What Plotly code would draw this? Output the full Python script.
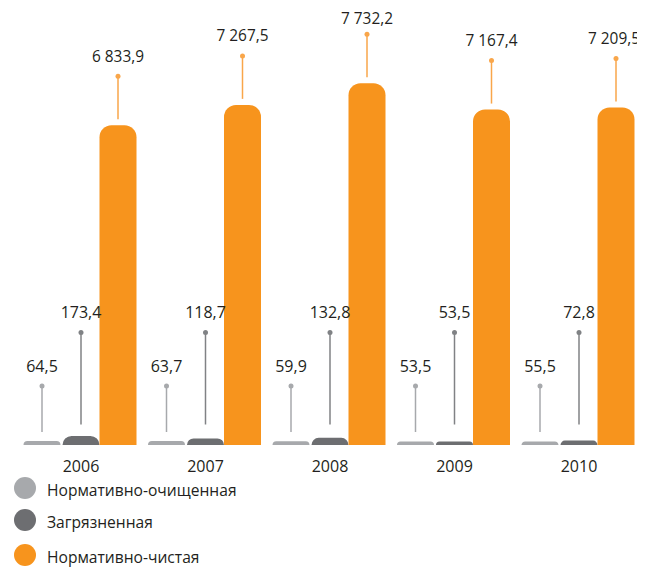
import plotly.graph_objects as go

# ---- data ----
years = ["2006", "2007", "2008", "2009", "2010"]
purified = [64.5, 63.7, 59.9, 53.5, 55.5]          # Нормативно-очищенная
polluted = [173.4, 118.7, 132.8, 53.5, 72.8]       # Загрязненная
clean = [6833.9, 7267.5, 7732.2, 7167.4, 7209.5]   # Нормативно-чистая
series_names = ["Нормативно-очищенная", "Загрязненная", "Нормативно-чистая"]

# ---- styles / layout constants ----
OFF = 8                        # default page body margin
W, H = 645 - OFF, 567 - OFF
TOP = 0
BASE_PX = 445 - OFF            # baseline, in figure pixels
SCALE = 0.0468                 # px per unit
PLOT_H = BASE_PX - TOP
YMAX = PLOT_H / SCALE
D = (H - BASE_PX) / (H - TOP)

GROUP_PX = 124.5
X0_PX = 81 - OFF
XA = -X0_PX / GROUP_PX
XB = XA + W / GROUP_PX
SHIFTS = [-39 / GROUP_PX, 0.0, 37 / GROUP_PX]
WIDTHS = [35 / GROUP_PX, 35 / GROUP_PX, 37 / GROUP_PX]
LINE_W = [2, 2, 0]

COLORS = ["#A7A9AC", "#6D6E71", "#F7941D"]
LEAD_COLORS = ["#A7A9AC", "#808285", "#F9A64A"]
RADII = [9, 9, 12]
LABEL_SIZES = [16, 16, 15.4]
TXT = "#231F20"
FONT = "Open Sans"


def u(px):
    return px / SCALE


LABEL_CAP = u(BASE_PX - (20.5 - OFF))   # highest label centre allowed
LABEL_X_MAX = XB - 31 / GROUP_PX        # keep labels inside the right edge


def fmt(v):
    return f"{v:,.1f}".replace(",", " ").replace(".", ",")


fig = go.Figure()
xs = list(range(len(years)))
all_series = [purified, polluted, clean]

for k, vals in enumerate(all_series):
    fig.add_trace(go.Bar(
        x=xs, y=vals, width=WIDTHS[k], offset=SHIFTS[k] - WIDTHS[k] / 2,
        marker=dict(color=COLORS[k], cornerradius=RADII[k],
                    line=dict(color=COLORS[k], width=LINE_W[k])),
        showlegend=False, hoverinfo="skip", name=series_names[k],
    ))

# leader lines, dots and value labels
for k, vals in enumerate(all_series):
    lx, ly, dx, dy, tx, ty = [], [], [], [], [], []
    for i, v in enumerate(vals):
        xx = i + SHIFTS[k]
        if k == 0:
            y_lo, y_dot, y_lab = u(13), u(59), u(77)
        elif k == 1:
            y_lo, y_dot, y_lab = u(20.5), u(112.5), u(131)
        else:
            y_lo, y_dot = v + u(6), v + u(49)
            y_lab = min(y_dot + u(18.5), LABEL_CAP)
        lx += [xx, xx, None]
        ly += [y_lo, y_dot, None]
        dx.append(xx); dy.append(y_dot)
        tx.append(min(xx, LABEL_X_MAX)); ty.append(y_lab)
    fig.add_trace(go.Scatter(x=lx, y=ly, mode="lines",
                             line=dict(color=LEAD_COLORS[k], width=1.5),
                             showlegend=False, hoverinfo="skip", cliponaxis=False))
    fig.add_trace(go.Scatter(x=dx, y=dy, mode="markers",
                             marker=dict(color=LEAD_COLORS[k], size=5),
                             showlegend=False, hoverinfo="skip", cliponaxis=False))
    fig.add_trace(go.Scatter(x=tx, y=ty, mode="text", text=[fmt(v) for v in vals],
                             textposition="middle center",
                             textfont=dict(family=FONT, size=LABEL_SIZES[k], color=TXT),
                             showlegend=False, hoverinfo="skip", cliponaxis=False))

# custom legend (pixel-like axes in the bottom strip)
leg_rows = [H - (488 - OFF), H - (520 - OFF), H - (555 - OFF)]
fig.add_trace(go.Scatter(x=[25 - OFF] * 3, y=leg_rows, mode="markers",
                         marker=dict(color=COLORS, size=22),
                         xaxis="x2", yaxis="y2", showlegend=False,
                         hoverinfo="skip", cliponaxis=False))
fig.add_trace(go.Scatter(x=[47 - OFF] * 3, y=[r - 4 for r in leg_rows], mode="text",
                         text=series_names, textposition="middle right",
                         textfont=dict(family=FONT, size=15.6, color=TXT),
                         xaxis="x2", yaxis="y2", showlegend=False,
                         hoverinfo="skip", cliponaxis=False))

fig.update_layout(
    width=W, height=H,
    margin=dict(l=0, r=0, t=TOP, b=0),
    paper_bgcolor="white", plot_bgcolor="white",
    barmode="overlay",
    font=dict(family=FONT, color=TXT),
    xaxis=dict(range=[XA, XB], tickvals=xs, ticktext=years, showgrid=False,
               zeroline=False, showline=False, ticks="",
               tickfont=dict(family=FONT, size=16, color=TXT),
               ticklabelstandoff=10, fixedrange=True),
    yaxis=dict(range=[0, YMAX], domain=[D, 1], visible=False, fixedrange=True),
    xaxis2=dict(range=[0, W], domain=[0, 1], anchor="y2", visible=False),
    yaxis2=dict(range=[0, H - BASE_PX], domain=[0, D], anchor="x2", visible=False),
)

fig.write_html("out.html")
